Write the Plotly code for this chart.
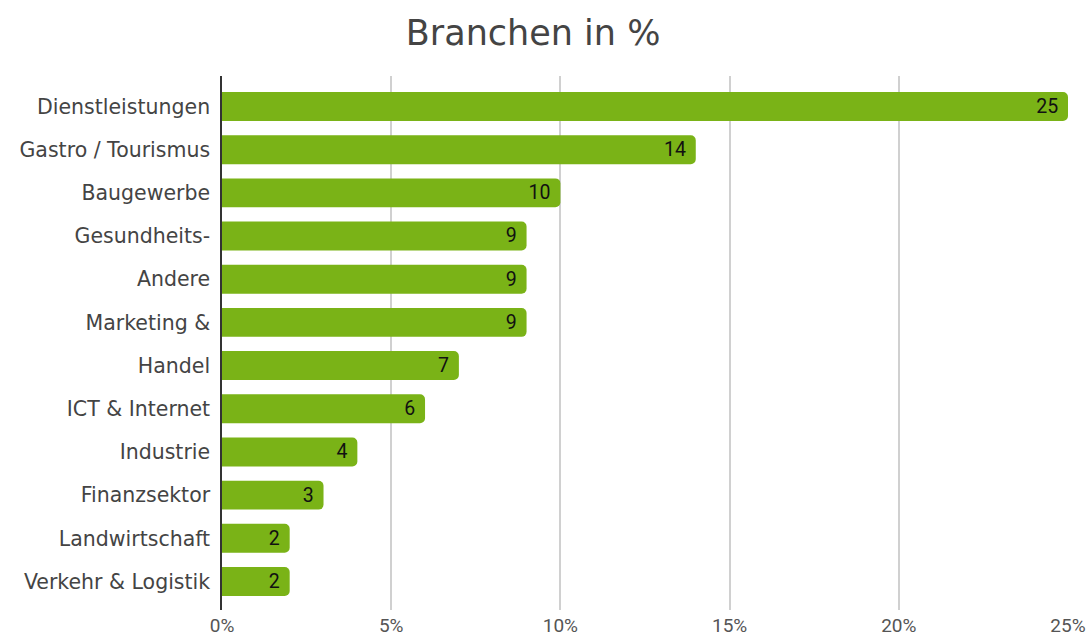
import plotly.graph_objects as go

# Branchenverteilung (Anteil in Prozent)
branchen = [
    "Dienstleistungen",
    "Gastro / Tourismus",
    "Baugewerbe",
    "Gesundheits-",
    "Andere",
    "Marketing &",
    "Handel",
    "ICT & Internet",
    "Industrie",
    "Finanzsektor",
    "Landwirtschaft",
    "Verkehr & Logistik",
]
anteile = [25, 14, 10, 9, 9, 9, 7, 6, 4, 3, 2, 2]

x_ticks = [0, 5, 10, 15, 20, 25]
x_tick_labels = ["0%", "5%", "10%", "15%", "20%", "25%"]

fig = go.Figure(
    go.Bar(
        x=anteile,
        y=branchen,
        orientation="h",
        marker=dict(color="#7ab317", cornerradius=5, line=dict(width=0)),
        width=0.67,
        text=[f"{v}\u00a0" for v in anteile],
        textposition="inside",
        insidetextanchor="end",
        textangle=0,
        textfont=dict(family="Roboto", size=23, color="#111111"),
        constraintext="none",
        cliponaxis=False,
        hoverinfo="skip",
    )
)

fig.update_layout(
    width=1088,
    height=639,
    paper_bgcolor="white",
    plot_bgcolor="white",
    margin=dict(l=222, r=20, t=76, b=29),
    showlegend=False,
    title=dict(
        text="Branchen in %",
        font=dict(family="DejaVu Sans", size=35, color="#444444"),
        x=0.49,
        xanchor="center",
        y=0.948,
        yanchor="middle",
        xref="container",
        yref="container",
    ),
)

fig.update_xaxes(
    range=[0, 25],
    tickvals=x_ticks,
    ticktext=x_tick_labels,
    automargin=False,
    showgrid=True,
    gridcolor="#d0d0d0",
    gridwidth=1.5,
    zeroline=False,
    showline=False,
    ticks="",
    ticklabelstandoff=2,
    tickfont=dict(family="Roboto", size=19, color="#555555"),
)

fig.update_yaxes(
    categoryorder="array",
    categoryarray=branchen,
    range=[11.66, -0.706],
    automargin=False,
    showgrid=False,
    zeroline=False,
    showline=True,
    linecolor="#333333",
    linewidth=1.5,
    ticks="",
    ticklabelstandoff=6,
    tickfont=dict(family="DejaVu Sans", size=20.5, color="#444444"),
)

fig.write_html("out.html")
